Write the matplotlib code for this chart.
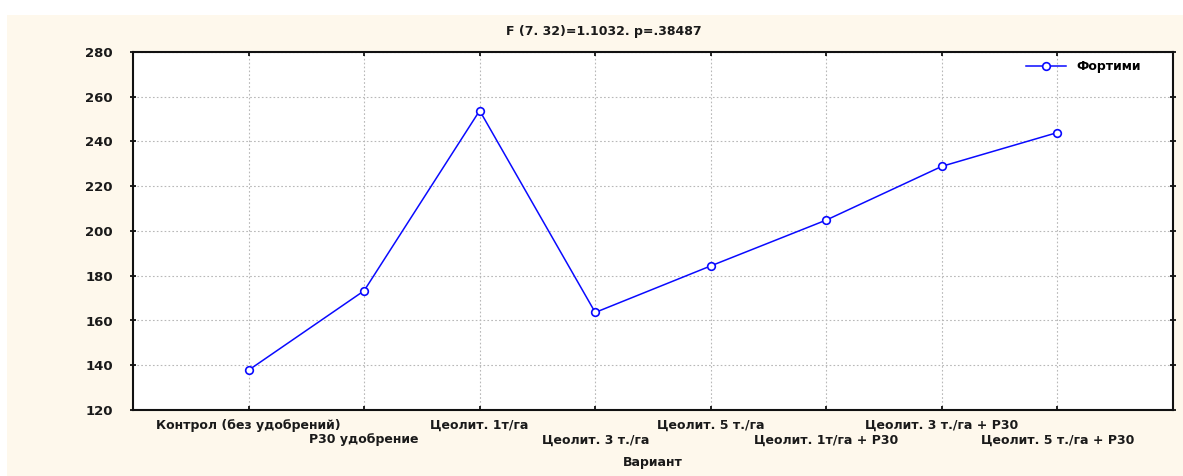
import matplotlib
matplotlib.use("Agg")
import matplotlib.pyplot as plt
from matplotlib.patches import Rectangle

# data
variants = [
    "Контрол (без удобрений)",
    "P30 удобрение",
    "Цеолит. 1т/га",
    "Цеолит. 3 т./га",
    "Цеолит. 5 т./га",
    "Цеолит. 1т/га + P30",
    "Цеолит. 3 т./га + P30",
    "Цеолит. 5 т./га + P30",
]
fortimi = [137.8, 173.3, 253.8, 163.6, 184.4, 204.9, 228.9, 244.0]
y_ticks = [120, 140, 160, 180, 200, 220, 240, 260, 280]

title = "F (7. 32)=1.1032. p=.38487"
series_name = "Фортими"
x_title = "Вариант"

CREAM = "#fef8ec"
BLUE = "#0a0aff"
TXT = "#1a1a1a"

plt.rcParams["font.family"] = ["DejaVu Sans"]

fig = plt.figure(figsize=(11.83, 4.76), dpi=100, facecolor="white")
fig.patches.append(Rectangle((7 / 1183, 0), 1, 1 - 15 / 476, transform=fig.transFigure,
                             facecolor=CREAM, edgecolor="none", zorder=-10))
ax = fig.add_axes([133 / 1183, 1 - 410 / 476, (1173 - 133) / 1183, (410 - 52) / 476])
ax.set_facecolor("white")

x = list(range(len(variants)))
ax.plot(x, fortimi, color=BLUE, lw=1.1, marker="o", ms=5.5, mfc="white",
        mec=BLUE, mew=1.2, label=series_name, zorder=3)

ax.set_xlim(-1, len(variants))
ax.set_ylim(y_ticks[0], y_ticks[-1])
ax.set_yticks(y_ticks)
ax.set_yticklabels([str(v) for v in y_ticks], fontsize=9.5, fontweight="bold", color=TXT)
ax.set_xticks(x)
ax.set_xticklabels([])

# two staggered rows of category labels
for i, lab in enumerate(variants):
    row = 0 if i % 2 == 0 else 1
    ax.annotate(lab, xy=(i, 0), xycoords=("data", "axes fraction"),
                xytext=(0, -15 - 15 * row), textcoords="offset pixels",
                ha="center", va="center", fontsize=9, fontweight="bold", color=TXT)

ax.text(0.5, -0.148, x_title, transform=ax.transAxes, ha="center", va="center",
        fontsize=9, fontweight="bold", color=TXT)
fig.text(604 / 1183, 1 - 32 / 476, title, ha="center", va="center",
         fontsize=9, fontweight="bold", color=TXT)

ax.grid(True, color="#b8b8b8", linestyle=(0, (1.5, 2)), linewidth=0.8)
ax.set_axisbelow(True)
for sp in ax.spines.values():
    sp.set_linewidth(1.5)
    sp.set_color("#111111")

ax.tick_params(axis="y", which="both", left=True, right=True, direction="inout", length=5, width=1.2, pad=12)
ax.tick_params(axis="x", which="both", bottom=True, top=True, direction="in", length=3, width=1.2)

leg = ax.legend(loc="upper right", frameon=False, handlelength=3.2,
                bbox_to_anchor=(0.98, 1.008), prop={"weight": "bold", "size": 9})

fig.savefig("out.png", dpi=100, facecolor=fig.get_facecolor())
